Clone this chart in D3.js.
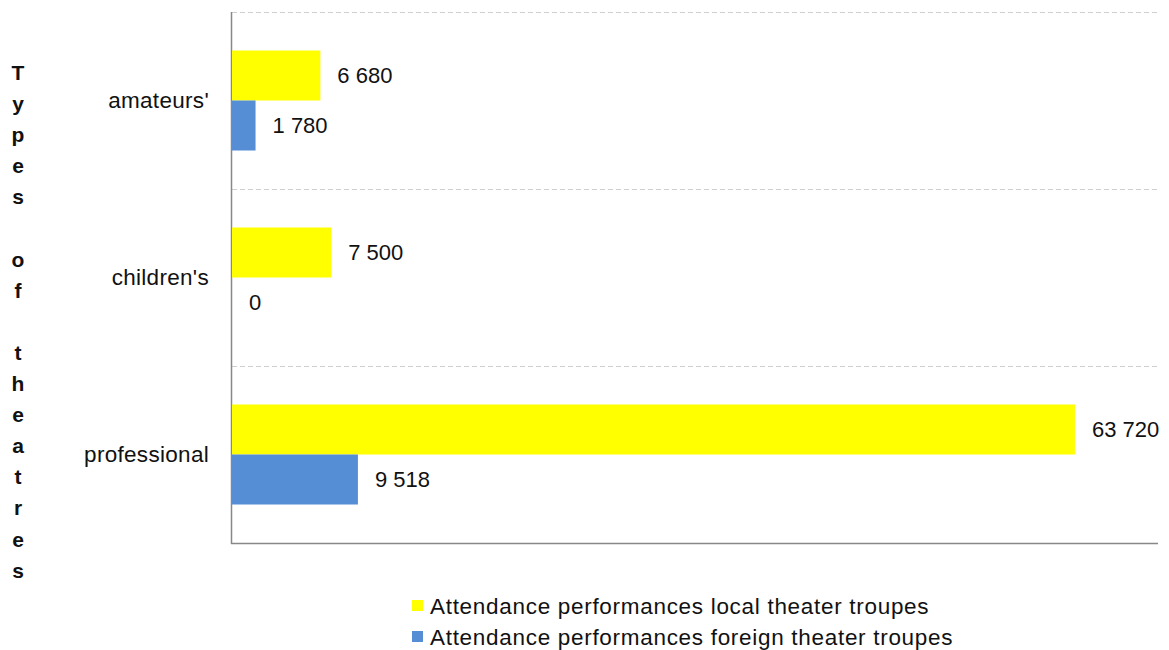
<!DOCTYPE html>
<html><head><meta charset="utf-8">
<script src="https://cdn.jsdelivr.net/npm/d3@7"></script>
<style>body{margin:0;background:#fff;} text{font-family:"Liberation Sans",Arial,sans-serif;}</style>
</head><body><svg id="c" width="1169" height="650"></svg>
<script>
const categories = ["amateurs'", "children's", "professional"];
const seriesNames = ["Attendance performances local theater troupes", "Attendance performances foreign theater troupes"];
const localValues = [6680, 7500, 63720];
const foreignValues = [1780, 0, 9518];
const colors = ["#FFFF00", "#558ED5"];
const axisTitle = "Types of theatres";

(function () {
const svg = d3.select("#c");
const mLeft = 232, mRight = 1158, mTop = 12, mBottom = 543;
const x = d3.scaleLinear().domain([0, 70000]).range([mLeft, mRight]);
const y = d3.scaleBand().domain(categories).range([mTop, mBottom]).padding(0);
const inner = d3.scaleBand().domain([0, 1]).range([0, y.bandwidth()]).paddingInner(0).paddingOuter(0.77);
const fmt = d3.formatLocale({decimal: ",", thousands: " ", grouping: [3], currency: ["", ""]}).format(",d");

// gridlines at band boundaries
const bounds = categories.map(c => y(c));
svg.selectAll(".grid").data(bounds).enter().append("line")
  .attr("x1", mLeft).attr("x2", mRight).attr("y1", d => d + 0.5).attr("y2", d => d + 0.5)
  .attr("stroke", "#cfcfcf").attr("stroke-dasharray", "5,3").attr("stroke-width", 1);

// axes
svg.append("line").attr("x1", mLeft - 0.5).attr("x2", mLeft - 0.5).attr("y1", mTop).attr("y2", mBottom + 1)
  .attr("stroke", "#888").attr("stroke-width", 1.5);
svg.append("line").attr("x1", mLeft - 1).attr("x2", mRight).attr("y1", mBottom + 0.5).attr("y2", mBottom + 0.5)
  .attr("stroke", "#888").attr("stroke-width", 1.5);

const rows = categories.map((c, i) => ({c, vals: [localValues[i], foreignValues[i]]}));
const g = svg.selectAll(".cat").data(rows).enter().append("g").attr("transform", d => `translate(0,${y(d.c)})`);
g.selectAll("rect").data(d => d.vals.map((v, k) => ({v, k}))).enter().append("rect")
  .attr("x", x(0)).attr("y", d => inner(d.k)).attr("height", inner.bandwidth())
  .attr("width", d => x(d.v) - x(0)).attr("fill", d => colors[d.k]);
g.selectAll("text.val").data(d => d.vals.map((v, k) => ({v, k}))).enter().append("text")
  .attr("x", d => x(d.v) + 17).attr("y", d => inner(d.k) + inner.bandwidth() / 2)
  .attr("dy", "0.35em").attr("font-size", 22).attr("fill", "#111").text(d => fmt(d.v));

// category labels
svg.selectAll(".cl").data(categories).enter().append("text")
  .attr("x", 209).attr("y", d => y(d) + y.bandwidth() / 2).attr("dy", "0.35em")
  .attr("text-anchor", "end").attr("font-size", 22.5).attr("letter-spacing", 0.3).attr("fill", "#111").text(d => d);

// vertical stacked axis title
const chars = axisTitle.split("");
svg.append("text").attr("font-size", 21).attr("font-weight", "bold").attr("text-anchor", "middle").attr("fill", "#111")
  .selectAll("tspan").data(chars).enter().append("tspan")
  .attr("x", 18).attr("y", (d, i) => 80 + i * 31.1).text(d => d === " " ? "\u00a0" : d);

// legend
const lg = svg.selectAll(".lg").data(seriesNames).enter().append("g")
  .attr("transform", (d, i) => `translate(412,${606 + i * 31})`);
lg.append("rect").attr("x", 0).attr("y", -6).attr("width", 11).attr("height", 11).attr("fill", (d, i) => colors[i]);
lg.append("text").attr("x", 18).attr("y", 0).attr("dy", "0.35em").attr("font-size", 22.5).attr("letter-spacing", 0.7).attr("fill", "#111").text(d => d);
})();
</script></body></html>
